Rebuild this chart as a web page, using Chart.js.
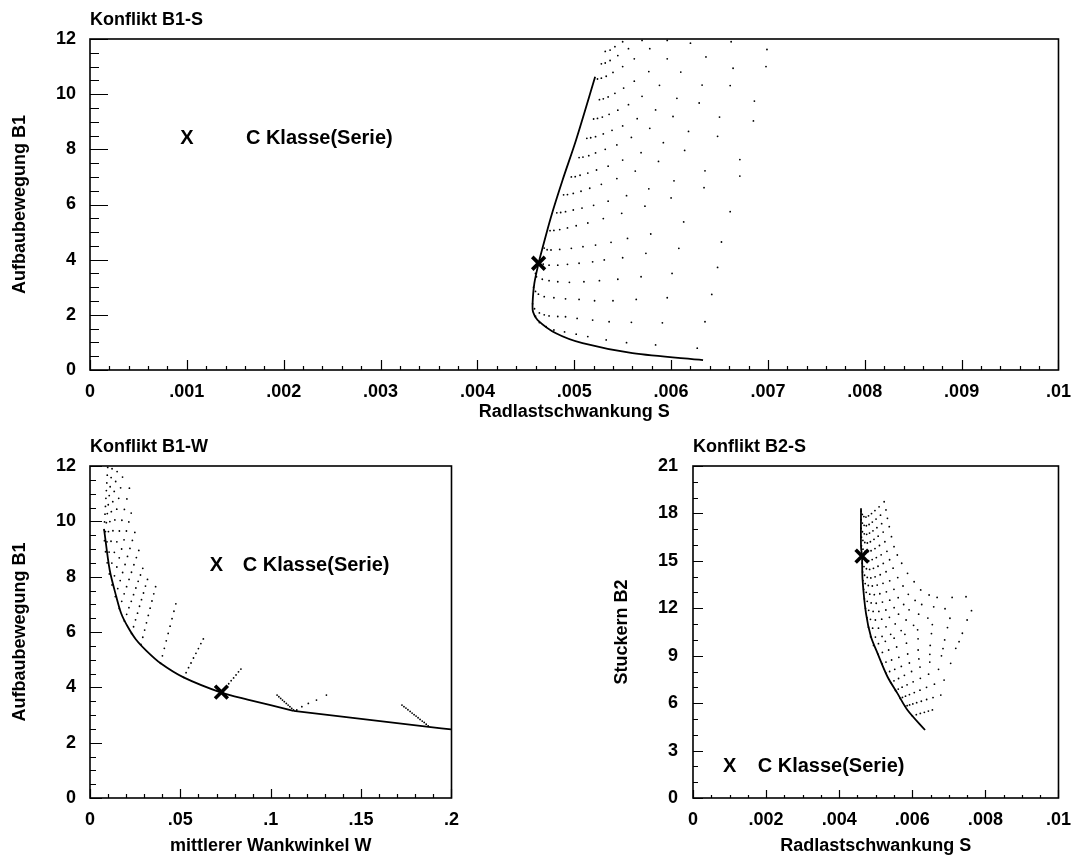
<!DOCTYPE html>
<html>
<head>
<meta charset="utf-8">
<script src="https://cdn.jsdelivr.net/npm/chart.js@4.4.1/dist/chart.umd.min.js"></script>
<style>
  html, body { margin: 0; padding: 0; background: #fff; }
  #wrap { position: relative; width: 1082px; height: 859px; overflow: hidden; }
  canvas { position: absolute; }
</style>
</head>
<body>
<div id="wrap">
  <canvas id="top" width="1082" height="424" style="left:0;top:0"></canvas>
  <canvas id="bl" width="470" height="429" style="left:0;top:430px"></canvas>
  <canvas id="br" width="482" height="429" style="left:600px;top:430px"></canvas>
</div>
<script>
/* ===== Konflikt-Diagramme: B1-S, B1-W, B2-S ===== */

// tick labels
const sTicks = [0, .001, .002, .003, .004, .005, .006, .007, .008, .009, .01];
const sTicksSmall = [0, .002, .004, .006, .008, .01];
const wTicks = [0, .05, .1, .15, .2];
const b1Ticks = [0, 2, 4, 6, 8, 10, 12];
const b2Ticks = [0, 3, 6, 9, 12, 15, 18, 21];

// ---------- Konflikt B1-S : [S, B1] ----------
const b1sFront = [[.005216,10.63],[.005018,8.33],[.004879,6.88],[.00476,5.55],[.004667,4.35],[.004632,3.87],
  [.004588,3.14],[.00457,2.42],[.004575,2.1],[.004622,1.81],[.004811,1.33],[.005086,0.97],[.005601,0.61],[.00633,0.36]];
const b1sSerie = [[.004632,3.87]];
const b1sRows = [
  [[.0046,1.95],[.00464,1.72],[.00471,1.57],[.00479,1.45],[.0049,1.38],[.00502,1.30],[.00514,1.21],[.00533,1.09],[.00554,0.99],[.00584,0.91],[.00627,0.79]],
  [[.00457,2.40],[.00459,2.22],[.00464,2.07],[.00469,2.00],[.00474,1.96],[.00483,1.94],[.00491,1.93],[.00503,1.87],[.00519,1.81],[.00536,1.75],[.00559,1.73],[.00591,1.71],[.00635,1.75]],
  [[.00458,3.00],[.0046,2.85],[.00463,2.75],[.00469,2.66],[.00479,2.62],[.00491,2.58],[.00505,2.56],[.00521,2.51],[.0054,2.51],[.00564,2.56],[.00596,2.62],[.00642,2.74]],
  [[.0046,3.50],[.00461,3.38],[.00467,3.29],[.00474,3.24],[.00483,3.20],[.00495,3.18],[.0051,3.20],[.00526,3.24],[.00545,3.29],[.00569,3.38],[.00601,3.50],[.00648,3.72]],
  [[.00464,3.92],[.00468,3.84],[.00474,3.80],[.00483,3.80],[.00493,3.83],[.00505,3.87],[.00519,3.92],[.00531,3.99],[.0055,4.07],[.00574,4.23],[.00608,4.41],[.00652,4.64]],
  [[.00469,4.42],[.00472,4.36],[.00476,4.35],[.00485,4.37],[.00497,4.41],[.00509,4.47],[.00522,4.53],[.00538,4.63],[.00555,4.77],[.00579,4.93],[.00613,5.37],[.00661,5.74]],
  [[.00475,5.05],[.00479,5.06],[.00485,5.09],[.00493,5.15],[.00502,5.23],[.00514,5.33],[.0053,5.49],[.00549,5.68],[.00573,5.94],[.006,6.24],[.00634,6.61],[.00671,7.03]],
  [[.00482,5.70],[.00486,5.71],[.00491,5.74],[.00499,5.80],[.00508,5.87],[.0052,5.97],[.00535,6.12],[.00554,6.32],[.00577,6.57],[.00603,6.86],[.00635,7.22],[.00671,7.63]],
  [[.00489,6.35],[.00493,6.36],[.00499,6.40],[.00507,6.48],[.00516,6.59],[.00528,6.73],[.00544,6.94],[.00563,7.21],[.00587,7.56],[.00614,7.96],[.00648,8.47],[.00685,9.03]],
  [[.00497,7.00],[.00501,7.01],[.00506,7.06],[.00514,7.14],[.00523,7.25],[.00535,7.39],[.0055,7.61],[.00569,7.88],[.00592,8.24],[.00618,8.65],[.0065,9.17],[.00686,9.75]],
  [[.00505,7.70],[.00509,7.72],[.00515,7.77],[.00522,7.87],[.00532,8.00],[.00544,8.16],[.00559,8.43],[.00578,8.76],[.00602,9.19],[.00629,9.68],[.00661,10.31],[.00698,11.0]],
  [[.00513,8.40],[.00517,8.42],[.00522,8.46],[.0053,8.56],[.00539,8.69],[.0055,8.85],[.00565,9.11],[.00584,9.43],[.00606,9.85],[.00632,10.33],[.00664,10.94],[.00699,11.62]],
  [[.0052,9.10],[.00524,9.12],[.00529,9.17],[.00536,9.27],[.00545,9.42],[.00556,9.62],[.0057,9.92],[.00588,10.32],[.0061,10.80],[.00636,11.35],[.00662,11.90]],
  [[.00526,9.80],[.0053,9.83],[.00535,9.90],[.00542,10.03],[.00551,10.22],[.00562,10.47],[.00577,10.82],[.00596,11.28],[.0062,11.85]],
  [[.00524,10.55],[.00528,10.58],[.00533,10.65],[.0054,10.79],[.0055,11.00],[.00562,11.28],[.00578,11.65],[.00596,11.95]],
  [[.00528,11.10],[.00532,11.13],[.00537,11.22],[.00545,11.40],[.00556,11.65],[.0057,11.95]],
  [[.00532,11.55],[.00537,11.60],[.00542,11.72],[.0055,11.90]]
];

// ---------- Konflikt B1-W : [W, B1] ----------
const b1wFront = [[.0078,9.71],[.0109,8.24],[.01453,7.28],[.01727,6.67],[.02089,6.19],[.02543,5.73],[.03124,5.32],
  [.03906,4.87],[.05177,4.36],[.07266,3.81],[.0872,3.56],[.1126,3.15]];
const b1wTail = [[.1126,3.15],[.1944,2.52],[.1998,2.48]];
const b1wSerie = [[.0727,3.83]];
const b1wCurves = [
  [[.0078,9.70],[.00805,9.98],[.0083,10.26],[.00855,10.54],[.0088,10.83],[.00905,11.11],[.0093,11.39],[.00955,11.67],[.0098,11.95]],
  [[.008,9.30],[.00853,9.63],[.00905,9.95],[.00958,10.28],[.0101,10.60],[.01063,10.93],[.01115,11.25],[.01168,11.58],[.0122,11.90]],
  [[.0086,8.90],[.0094,9.26],[.0102,9.63],[.011,9.99],[.0118,10.35],[.0126,10.71],[.0134,11.08],[.0142,11.44],[.015,11.80]],
  [[.0095,8.50],[.01056,8.89],[.01163,9.28],[.01269,9.66],[.01375,10.05],[.01481,10.44],[.01588,10.83],[.01694,11.21],[.018,11.60]],
  [[.0107,8.10],[.01209,8.49],[.01348,8.88],[.01486,9.26],[.01625,9.65],[.01764,10.04],[.01903,10.43],[.02041,10.81],[.0218,11.20]],
  [[.0122,7.70],[.01353,8.03],[.01485,8.35],[.01618,8.68],[.0175,9.00],[.01883,9.33],[.02015,9.65],[.02148,9.98],[.0228,10.30]],
  [[.014,7.28],[.01535,7.57],[.0167,7.86],[.01805,8.15],[.0194,8.44],[.02075,8.73],[.0221,9.02],[.02345,9.31],[.0248,9.60]],
  [[.0162,6.85],[.01755,7.11],[.0189,7.38],[.02025,7.64],[.0216,7.90],[.02295,8.16],[.0243,8.43],[.02565,8.69],[.027,8.95]],
  [[.019,6.40],[.02028,6.64],[.02155,6.88],[.02283,7.11],[.0241,7.35],[.02538,7.59],[.02665,7.83],[.02793,8.06],[.0292,8.30]],
  [[.023,5.95],[.0241,6.19],[.0252,6.44],[.0263,6.68],[.0274,6.93],[.0285,7.17],[.0296,7.41],[.0307,7.66],[.0318,7.90]],
  [[.0282,5.55],[.02921,5.81],[.03023,6.07],[.03124,6.33],[.03225,6.60],[.03326,6.86],[.03428,7.12],[.03529,7.38],[.0363,7.64]],
  [[.039,4.87],[.04006,5.14],[.04113,5.41],[.04219,5.68],[.04325,5.95],[.04431,6.21],[.04538,6.48],[.04644,6.75],[.0475,7.02]],
  [[.0518,4.36],[.05316,4.53],[.05453,4.71],[.05589,4.88],[.05725,5.06],[.05861,5.23],[.05998,5.40],[.06134,5.58],[.0627,5.75]],
  [[.0727,3.81],[.07405,3.92],[.0754,4.02],[.07675,4.13],[.0781,4.24],[.07945,4.34],[.0808,4.45],[.08215,4.56],[.0835,4.66]],
  [[.1035,3.72],[.1045,3.66],[.1055,3.60],[.1065,3.54],[.1075,3.48],[.1086,3.42],[.1096,3.36],[.1106,3.30],[.1116,3.24],[.1126,3.18]],
  [[.1144,3.18],[.1172,3.30],[.1208,3.42],[.1253,3.54],[.1308,3.72]],
  [[.1726,3.36],[.1737,3.30],[.1748,3.25],[.1759,3.19],[.1771,3.13],[.1782,3.07],[.1793,3.01],[.1804,2.96],[.1815,2.90],[.1826,2.84],[.1838,2.78],[.1849,2.73],[.186,2.67],[.1871,2.61]]
];

// ---------- Konflikt B2-S : [S, B2] ----------
const b2sFront = [[.004597,18.32],[.004597,15.9],[.004624,15.3],[.00464,13.79],[.004733,11.68],[.004869,10.2],
  [.00505,9.15],[.005322,7.67],[.005594,6.62],[.005867,5.57],[.006349,4.30]];
const b2sSerie = [[.004624,15.3]];
const b2sArcs = [
  [[.0046,18.15],[.004632,17.94],[.004676,17.80],[.004732,17.77],[.004802,17.85],[.004884,17.99],[.004978,18.18],[.005091,18.42],[.00523,18.74]],
  [[.0046,17.60],[.004634,17.39],[.004682,17.25],[.004743,17.22],[.004818,17.30],[.004906,17.45],[.005008,17.64],[.00513,17.89],[.00528,18.22]],
  [[.0046,17.05],[.004636,16.84],[.004686,16.71],[.004751,16.68],[.00483,16.76],[.004924,16.90],[.005032,17.10],[.005162,17.35],[.00532,17.69]],
  [[.00461,16.50],[.004648,16.29],[.004701,16.16],[.00477,16.13],[.004853,16.21],[.004952,16.36],[.005066,16.56],[.005203,16.82],[.00537,17.16]],
  [[.00461,15.95],[.004651,15.74],[.004708,15.60],[.004782,15.57],[.004872,15.64],[.004979,15.78],[.005102,15.97],[.00525,16.21],[.00543,16.53]],
  [[.00462,15.40],[.004664,15.19],[.004726,15.05],[.004805,15.01],[.004902,15.08],[.005016,15.21],[.005148,15.38],[.005306,15.60],[.0055,15.90]],
  [[.00463,14.85],[.004678,14.64],[.004745,14.50],[.004832,14.46],[.004937,14.53],[.005062,14.66],[.005206,14.84],[.005379,15.07],[.00559,15.37]],
  [[.00464,14.30],[.004694,14.09],[.004768,13.95],[.004865,13.92],[.004982,13.99],[.005122,14.12],[.005282,14.31],[.005475,14.54],[.00571,14.85]],
  [[.00465,13.75],[.004711,13.56],[.004796,13.44],[.004906,13.41],[.00504,13.47],[.005199,13.58],[.005382,13.74],[.005602,13.94],[.00587,14.21]],
  [[.00467,13.20],[.004739,13.01],[.004836,12.89],[.00496,12.86],[.005112,12.92],[.005291,13.04],[.005498,13.20],[.005746,13.41],[.00605,13.68]],
  [[.00469,12.60],[.004767,12.44],[.004875,12.34],[.005013,12.32],[.005183,12.39],[.005383,12.51],[.005614,12.67],[.005891,12.88],[.00623,13.16]],
  [[.00472,12.00],[.004807,11.87],[.004929,11.80],[.005085,11.80],[.005277,11.89],[.005503,12.04],[.005764,12.24],[.006077,12.50],[.00646,12.84]],
  [[.00476,11.40],[.004856,11.30],[.00499,11.26],[.005163,11.31],[.005374,11.43],[.005624,11.63],[.005912,11.90],[.006258,12.24],[.00668,12.69]],
  [[.0048,10.80],[.004915,10.74],[.005075,10.74],[.005281,10.83],[.005533,11.01],[.00583,11.26],[.006174,11.63],[.006586,12.09],[.00709,12.69]],
  [[.00486,10.20],[.004991,10.18],[.005173,10.22],[.005408,10.35],[.005695,10.59],[.006035,10.92],[.006426,11.38],[.006896,11.97],[.00747,12.73]],
  [[.00494,9.65],[.005074,9.76],[.005262,9.91],[.005503,10.11],[.005798,10.35],[.006146,10.64],[.006548,10.97],[.00703,11.37],[.00762,11.85]],
  [[.00506,9.10],[.005182,9.21],[.005353,9.36],[.005572,9.55],[.005841,9.79],[.006158,10.07],[.006524,10.40],[.006963,10.78],[.0075,11.26]],
  [[.00517,8.50],[.00528,8.60],[.005434,8.73],[.005632,8.90],[.005874,9.11],[.00616,9.36],[.00649,9.65],[.006886,10.00],[.00737,10.42]],
  [[.00528,7.90],[.00538,8.00],[.00552,8.14],[.0057,8.32],[.00592,8.54],[.00618,8.80],[.00648,9.09],[.00684,9.45],[.00728,9.89]],
  [[.00541,7.30],[.005499,7.41],[.005624,7.56],[.005784,7.76],[.00598,8.00],[.006211,8.28],[.006478,8.60],[.006798,8.99],[.00719,9.47]],
  [[.00554,6.80],[.005616,6.89],[.005721,7.01],[.005857,7.16],[.006023,7.35],[.00622,7.57],[.006446,7.83],[.006718,8.14],[.00705,8.52]],
  [[.00567,6.30],[.00573,6.36],[.005814,6.44],[.005922,6.54],[.006054,6.67],[.00621,6.82],[.00639,7.00],[.006606,7.20],[.00687,7.46]],
  [[.00581,5.80],[.005859,5.84],[.005926,5.89],[.006014,5.95],[.00612,6.03],[.006247,6.12],[.006392,6.23],[.006567,6.35],[.00678,6.51]],
  [[.006,5.20],[.00611,5.27],[.00622,5.35],[.00633,5.42],[.00644,5.50],[.00655,5.57]]
];

const FONT = '"Liberation Sans", Arial, Helvetica, sans-serif';
Chart.defaults.font.family = FONT;
Chart.defaults.color = "#000";

const fmt = v => v === 0 ? "0" : String(+v.toFixed(4)).replace(/^0\./, ".");
const xy = arr => arr.map(p => ({x: p[0], y: p[1]}));

// frame, inward ticks, panel title and the "X C Klasse(Serie)" note
const frameTicks = {
  id: "frameTicks",
  afterDatasetsDraw(chart, args, o){
    const {ctx, chartArea: a, scales: {x, y}} = chart;
    ctx.save();
    ctx.strokeStyle = "#000";
    ctx.lineWidth = 1.2;
    const marks = (sc, minor, major, lenMaj, lenMin, horiz) => {
      const n = Math.round((sc.max - sc.min) / minor);
      ctx.beginPath();
      for(let i = 0; i <= n; i++){
        const v = sc.min + i * minor;
        const isMaj = Math.abs(v / major - Math.round(v / major)) < 1e-6;
        const len = isMaj ? lenMaj : lenMin;
        const p = Math.round(sc.getPixelForValue(v)) + 0.5;
        if(horiz){ ctx.moveTo(p, a.bottom); ctx.lineTo(p, a.bottom - len); }
        else { ctx.moveTo(a.left, p); ctx.lineTo(a.left + len, p); }
      }
      ctx.stroke();
    };
    marks(x, o.xMinor, o.xMajor, o.xLen[0], o.xLen[1], true);
    marks(y, o.yMinor, o.yMajor, o.yLen[0], o.yLen[1], false);
    ctx.lineWidth = 1.6;
    ctx.strokeRect(a.left, a.top, a.right - a.left, a.bottom - a.top);

    ctx.fillStyle = "#000";
    ctx.textBaseline = "middle";
    ctx.font = "bold 18px " + FONT;
    ctx.textAlign = "left";
    ctx.fillText(o.title, a.left, a.top - 19);

    ctx.font = "bold 20px " + FONT;
    const ly = y.getPixelForValue(o.note[1]);
    ctx.textAlign = "center";
    ctx.fillText("X", x.getPixelForValue(o.note[0]), ly);
    ctx.textAlign = "left";
    ctx.fillText("C Klasse(Serie)", x.getPixelForValue(o.note[2]), ly);
    ctx.restore();
  }
};

function panel(id, o){
  const tickFont = {size: 18, weight: "bold", family: FONT};
  return new Chart(document.getElementById(id), {
    type: "scatter",
    data: {
      datasets: [
        { data: xy(o.dots.flat()), pointRadius: 0.9, pointBackgroundColor: "#000", pointBorderWidth: 0, pointHoverRadius: 0 },
        ...o.lines.map(l => ({ data: xy(l.pts), showLine: true, borderColor: "#000", borderWidth: 1.8, pointRadius: 0, tension: l.tension })),
        { data: xy(o.serie), pointStyle: "crossRot", pointRadius: 9, pointBorderColor: "#000", pointBorderWidth: 3.6 }
      ]
    },
    options: {
      responsive: false, animation: false, devicePixelRatio: 1,
      layout: {padding: {top: o.padTop, right: o.padRight, left: 0, bottom: 0}},
      plugins: {
        legend: {display: false}, tooltip: {enabled: false},
        frameTicks: o.deco
      },
      scales: {
        x: {
          type: "linear", min: o.xTicks[0], max: o.xTicks[o.xTicks.length - 1],
          afterBuildTicks: s => { s.ticks = o.xTicks.map(v => ({value: v})); },
          afterFit: s => { s.height = o.xH; },
          ticks: {font: tickFont, color: "#000", padding: 11, autoSkip: false, maxRotation: 0, callback: v => fmt(v)},
          grid: {display: false, drawTicks: false}, border: {display: false},
          title: {display: true, text: o.xTitle, font: tickFont, color: "#000", padding: {top: 0, bottom: o.xTitlePad}}
        },
        y: {
          type: "linear", min: o.yTicks[0], max: o.yTicks[o.yTicks.length - 1],
          afterBuildTicks: s => { s.ticks = o.yTicks.map(v => ({value: v})); },
          afterFit: s => { s.width = o.yW; },
          ticks: {font: tickFont, color: "#000", padding: o.yPad, autoSkip: false, callback: v => fmt(v)},
          grid: {display: false, drawTicks: false}, border: {display: false},
          title: {display: true, text: o.yTitle, font: tickFont, color: "#000", padding: {top: o.yTitlePad, bottom: 0}}
        }
      }
    },
    plugins: [frameTicks]
  });
}

panel("top", {
  dots: b1sRows, serie: b1sSerie,
  lines: [{pts: b1sFront, tension: 0.3}],
  xTicks: sTicks, yTicks: b1Ticks,
  xTitle: "Radlastschwankung S", yTitle: "Aufbaubewegung B1",
  padTop: 39, padRight: 22, xH: 54, yW: 90, yPad: 14, xTitlePad: 1, yTitlePad: 9,
  deco: {title: "Konflikt B1-S", note: [.001, 8.4, .00161],
         xMinor: .0002, xMajor: .001, xLen: [10, 4], yMinor: .5, yMajor: 2, yLen: [18, 9]}
});

panel("bl", {
  dots: b1wCurves, serie: b1wSerie,
  lines: [{pts: b1wFront, tension: 0.3}, {pts: b1wTail, tension: 0}],
  xTicks: wTicks, yTicks: b1Ticks,
  xTitle: "mittlerer Wankwinkel W", yTitle: "Aufbaubewegung B1",
  padTop: 36, padRight: 13, xH: 61, yW: 90, yPad: 14, xTitlePad: 2, yTitlePad: 9,
  deco: {title: "Konflikt B1-W", note: [.07, 8.4, .0845],
         xMinor: .01, xMajor: .05, xLen: [9, 4], yMinor: .5, yMajor: 2, yLen: [12, 6]}
});

panel("br", {
  dots: b2sArcs, serie: b2sSerie,
  lines: [{pts: b2sFront, tension: 0.3}],
  xTicks: sTicksSmall, yTicks: b2Ticks,
  xTitle: "Radlastschwankung S", yTitle: "Stuckern B2",
  padTop: 36, padRight: 22, xH: 61, yW: 93, yPad: 15, xTitlePad: 2, yTitlePad: 11,
  deco: {title: "Konflikt B2-S", note: [.001, 2, .00177],
         xMinor: .0005, xMajor: .002, xLen: [8, 3], yMinor: 1, yMajor: 3, yLen: [10, 5]}
});
</script>
</body>
</html>
